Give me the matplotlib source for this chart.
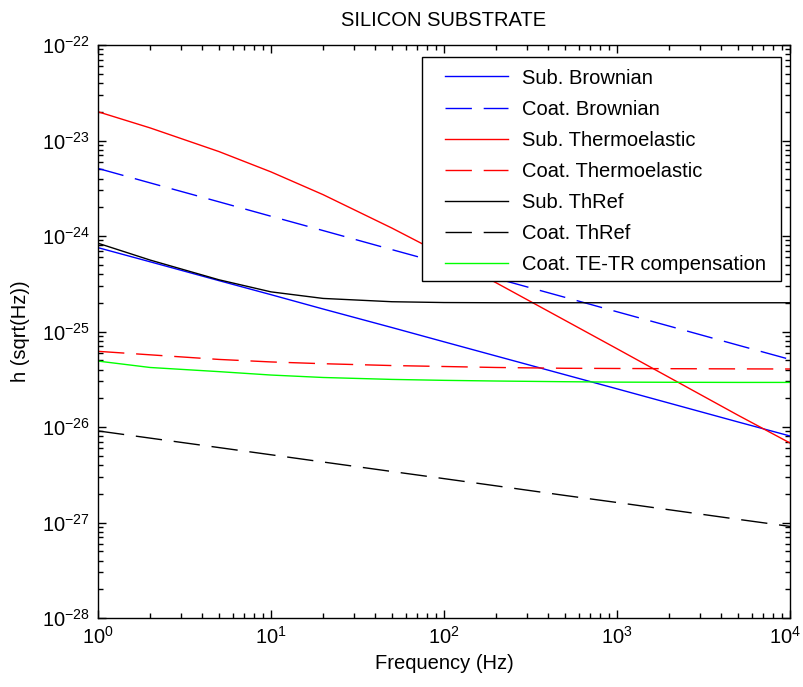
import matplotlib
matplotlib.use("Agg")
import matplotlib.pyplot as plt
from matplotlib.patches import Rectangle
from matplotlib.transforms import ScaledTranslation

plt.rcParams['font.family'] = ['Liberation Sans', 'DejaVu Sans']
plt.rcParams['mathtext.fontset'] = 'custom'
plt.rcParams['mathtext.rm'] = 'Liberation Sans'
plt.rcParams['mathtext.it'] = 'Liberation Sans:italic'
plt.rcParams['mathtext.bf'] = 'Liberation Sans:bold'
plt.rcParams['axes.unicode_minus'] = False

freq = [1, 2, 5, 10, 20, 50, 100, 200, 500, 1000, 2000, 5000, 10000]

sub_brownian = [7.55e-25, 5.37e-25, 3.41e-25, 2.43e-25, 1.72e-25, 1.10e-25, 7.8e-26,
                5.54e-26, 3.53e-26, 2.51e-26, 1.78e-26, 1.13e-26, 8.05e-27]
coat_brownian = [5.1e-24, 3.6e-24, 2.28e-24, 1.61e-24, 1.14e-24, 7.2e-25, 5.1e-25,
                 3.6e-25, 2.28e-25, 1.61e-25, 1.14e-25, 7.2e-26, 5.1e-26]
sub_thermoelastic = [2.0e-23, 1.355e-23, 7.66e-24, 4.69e-24, 2.71e-24, 1.21e-24, 6.32e-25,
                     3.24e-25, 1.31e-25, 6.6e-26, 3.31e-26, 1.33e-26, 6.8e-27]
coat_thermoelastic = [6.2e-26, 5.7e-26, 5.1e-26, 4.8e-26, 4.6e-26, 4.4e-26, 4.3e-26,
                      4.2e-26, 4.12e-26, 4.1e-26, 4.08e-26, 4.06e-26, 4.05e-26]
sub_thref = [8.4e-25, 5.6e-25, 3.48e-25, 2.6e-25, 2.22e-25, 2.05e-25, 2.01e-25,
             2.0e-25, 2.0e-25, 2.0e-25, 2.0e-25, 2.0e-25, 2.0e-25]
coat_thref = [9.1e-27, 7.65e-27, 6.09e-27, 5.12e-27, 4.3e-27, 3.42e-27, 2.88e-27,
              2.42e-27, 1.92e-27, 1.62e-27, 1.36e-27, 1.08e-27, 9.1e-28]
coat_te_tr = [4.9e-26, 4.2e-26, 3.8e-26, 3.5e-26, 3.3e-26, 3.15e-26, 3.08e-26,
              3.03e-26, 2.98e-26, 2.95e-26, 2.94e-26, 2.93e-26, 2.93e-26]

labels = ["Sub. Brownian", "Coat. Brownian", "Sub. Thermoelastic",
          "Coat. Thermoelastic", "Sub. ThRef", "Coat. ThRef",
          "Coat. TE-TR compensation"]

xticks = [1, 10, 100, 1000, 10000]
yticks = [1e-28, 1e-27, 1e-26, 1e-25, 1e-24, 1e-23, 1e-22]

FS = 14.5
dash = (0, (19, 8.5))

fig = plt.figure(figsize=(8.04, 6.87), dpi=100)
AX_L, AX_R, AX_T, AX_B = 98, 790, 45, 618
ax = fig.add_axes([AX_L/804, 1-AX_B/687, (AX_R-AX_L)/804, (AX_B-AX_T)/687])

lw = 1.0
ax.loglog(freq, sub_brownian, color=(0, 0, 1), lw=lw, label=labels[0])
ax.loglog(freq, coat_brownian, color=(0, 0, 1), lw=lw, linestyle=dash, label=labels[1])
ax.loglog(freq, sub_thermoelastic, color=(1, 0, 0), lw=lw, label=labels[2])
ax.loglog(freq, coat_thermoelastic, color=(1, 0, 0), lw=lw, linestyle=dash, label=labels[3])
ax.loglog(freq, sub_thref, color='black', lw=lw, label=labels[4])
ax.loglog(freq, coat_thref, color='black', lw=lw, linestyle=dash, label=labels[5])
ax.loglog(freq, coat_te_tr, color=(0, 1, 0), lw=lw, label=labels[6])

ax.set_xlim(1, 1e4)
ax.set_ylim(1e-28, 1e-22)
ax.set_xticks(xticks)
ax.set_yticks(yticks)

ax.tick_params(which='both', direction='in', top=True, right=True,
               labelsize=FS, width=1.0, color='black')
ax.tick_params(which='major', length=6, pad=6)
ax.tick_params(which='minor', length=3.5)
for s in ax.spines.values():
    s.set_linewidth(1.0)
    s.set_color('black')

# keep the last x tick label inside the figure
fig.canvas.draw()
last = ax.get_xticklabels()[-1]
last.set_transform(last.get_transform() + ScaledTranslation(-5/100, 0, fig.dpi_scale_trans))

ax.set_title("SILICON SUBSTRATE", fontsize=FS, pad=14)
ax.set_xlabel("Frequency (Hz)", fontsize=FS, labelpad=4)
ax.set_ylabel("h (sqrt(Hz))", fontsize=FS, labelpad=8)

W, H = AX_R - AX_L, AX_B - AX_T
box = Rectangle(((422-AX_L)/W, (AX_B-281)/H), (781-422)/W, (281-57)/H,
                transform=ax.transAxes, facecolor='white', edgecolor='black',
                linewidth=1.0, zorder=4)
ax.add_patch(box)

leg = ax.legend(loc='upper left', bbox_to_anchor=((445-AX_L)/W, (AX_B-68.5)/H),
                borderaxespad=0, borderpad=0, fontsize=FS, handlelength=3.13,
                handletextpad=0.7, labelspacing=0.6, frameon=False)
leg.set_zorder(5)

fig.savefig("out.png", dpi=100, facecolor='white')
